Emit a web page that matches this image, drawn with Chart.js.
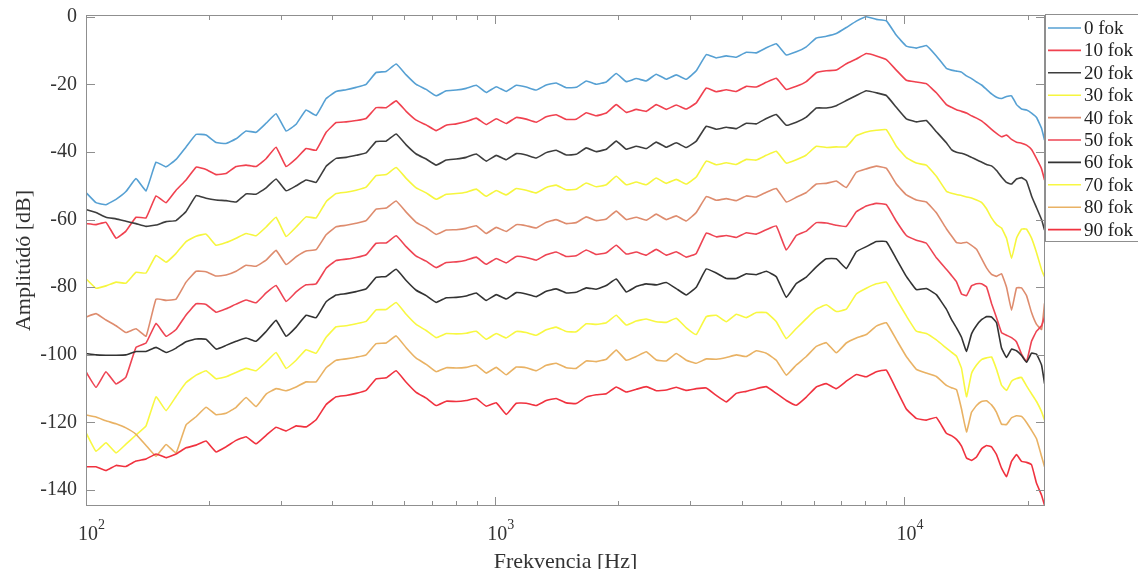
<!DOCTYPE html>
<html lang="hu">
<head>
  <meta charset="UTF-8" />
  <title>Amplitúdó – frekvencia</title>
  <style>
    html, body {
      margin: 0;
      padding: 0;
      background: #fff;
    }

    #wrap {
      width: 1138px;
      height: 569px;
      overflow: hidden;
    }
  </style>
</head>
<body>

<div id="wrap">
  <canvas id="chart" width="1138" height="569"></canvas>
</div>

<script src="https://cdn.jsdelivr.net/npm/chart.js"></script>

<script>
  // frekvencia pontok [Hz]
  const FREQ = [
    100, 105.8, 111.9, 118.4, 125.2, 132.5, 140.2, 148.3, 156.9, 166.0,
    175.6, 185.8, 196.5, 207.9, 219.9, 232.7, 246.1, 260.4, 275.5, 291.4,
    308.3, 326.2, 345.0, 365.0, 386.2, 408.5, 432.2, 457.2, 483.6, 511.6,
    541.3, 572.7, 605.8, 640.9, 678.0, 717.2, 758.9, 802.9, 849.3, 898.5,
    950.5, 1005.6, 1063.8, 1125.4, 1190.5, 1259.4, 1332.3, 1409.4, 1491, 1577,
    1669, 1765, 1868, 1976, 2090, 2211, 2339, 2474, 2618, 2769,
    2930, 3099, 3279, 3468, 3669, 3882, 4106, 4344, 4596, 4862,
    5143, 5441, 5756, 6089, 6442, 6815, 7209, 7627, 8068, 8535,
    9030, 9553, 10106, 10691, 11310, 11965, 12658,
    13025, 13402, 13785, 14178, 14583, 15000, 15428, 15868, 16321, 16787,
    17266, 17759, 18266, 18787, 19323, 19875, 20442, 21026, 21626, 21994
  ];

  // amplitúdó [dB] szögenként
  const FOK_0 = [
    -52, -55, -55.6, -54, -51.7, -47.9, -51.5, -43, -44.4, -42.2,
    -38.5, -34.8, -35, -37.2, -37.5, -36.1, -33.8, -34.2, -31.5, -28.7,
    -33.8, -31.8, -27.6, -29.2, -24.2, -22.1, -21.6, -20.9, -20, -16.5,
    -16.2, -14, -17.2, -20, -21.5, -23.4, -21.9, -21.7, -21.2, -20.3,
    -22.4, -20.7, -22.1, -20.3, -20.8, -21.7, -20.2, -19.6, -21, -20.9,
    -19, -20, -19.3, -16.8, -19.2, -18.3, -19, -17, -18.5, -17.2,
    -18.5, -16, -11.2, -12.2, -11.6, -12, -10.5, -10.7, -9.2, -8,
    -11.3, -10.4, -8.9, -6.3, -5.8, -5, -3.2, -1.3, 0, -0.8,
    -1.2, -5.5, -8.7, -9.3, -8.5, -11.6, -15.3,
    -15.8, -16.1, -16.4, -17.5, -18.3, -19.3, -20.2, -21.5, -22.8, -23.8,
    -24.2, -23.6, -23.4, -26, -27.3, -27.6, -28.5, -29.8, -33, -36.5
  ];

  const FOK_10 = [
    -61.2, -61.5, -60.8, -65.5, -63.4, -59.3, -59.5, -53, -55, -51.3,
    -48.3, -44.5, -45.2, -46.7, -46.4, -44.3, -43.9, -44.3, -42, -38.6,
    -44.3, -42, -39, -39.5, -34.2,
    -31.3, -31.1, -30.7, -30.1, -26.9, -26.9, -24.9, -28, -30.6, -32,
    -33.7, -32.1, -31.7, -31, -30, -31.9, -30.2, -31.6, -29.8, -30.3,
    -31.2, -29.6, -29, -30.4, -30.3, -28.4, -29.3, -28.5, -26, -28.3,
    -27.4, -28, -26, -27.4, -26.1, -27.3, -25.5, -21.1, -22.2, -21.6,
    -22.1, -20.6, -20.8, -19.4, -18.2, -21.5, -20.6, -19.2, -16.6,
    -16, -15.8, -13.9, -12.5, -10.9, -11.6, -12.7, -15.8, -18.8, -19.3, -19.8, -22.5, -26,
    -26.8, -27.5, -28, -28.5, -29.3, -30, -30.8, -32, -33.3, -34.5,
    -35.5, -35, -36.3, -37.1, -37.4, -38, -39.3, -42, -45, -48.3
  ];

  const FOK_20 = [
    -57, -57.9, -59.3, -59.8, -60.5, -61.2, -62, -61.6, -60.6, -60.3,
    -57.6, -52.9, -53.7, -54.2, -54.4, -54.8, -52.4, -52.5, -50.6, -48,
    -51.5, -50, -48.3, -49, -44.2,
    -41.9, -41.6, -41, -40.3, -36.9, -36.8, -34.7, -37.9, -40.6, -42.1,
    -43.9, -42.4, -42.1, -41.6, -40.6, -42.7, -41, -42.3, -40.5, -40.9,
    -41.8, -40.2, -39.5, -40.9, -40.7, -38.8, -39.9, -39.2, -36.8, -39.2,
    -38.3, -39, -37.1, -38.6, -37.3, -38.7, -36.8, -32.4, -33.3, -32.7,
    -33.1, -31.5, -31.7, -30.1, -28.9, -32.1, -31.2, -29.7, -27,
    -27, -26.3, -24.8, -23.3, -21.9, -22.5, -23.3, -26.8, -30.2, -31.1, -30.7, -34, -37.3,
    -39.3, -40.1, -40.4, -40.9, -41.6, -42.3, -43, -43.7, -44.1, -45.5,
    -47.4, -49, -49.5, -48, -47.6, -48.6, -53, -56.5, -60, -63.1
  ];

  const FOK_30 = [
    -77.5, -80.3, -79.6, -78.5, -78.8, -75.6, -75.8, -70.6, -72.6, -70,
    -66.5, -64.9, -64.3, -67.6, -66.8, -65.5, -64.1, -64.8, -62.2, -59.3,
    -65, -62.2, -59.2, -59.5, -54.7,
    -52.3, -51.9, -51.3, -50.4, -47, -46.7, -44.6, -47.8, -50.6, -52.1,
    -54, -52.5, -52.3, -51.9, -51, -53.1, -51.4, -52.7, -50.8, -51.3,
    -52.1, -50.5, -49.8, -51.2, -51, -49.2, -50.3, -49.7, -47.2, -49.7,
    -48.9, -49.7, -47.7, -49.3, -48.1, -49.5, -47.4, -42.7, -43.8, -43.2,
    -43.7, -42.2, -42.4, -41, -39.8, -43.3, -42.3, -40.9, -38.3,
    -38.7, -38.5, -38.5, -35.2, -34.1, -33.6, -33.4, -38.3, -41.7, -43.3, -43.9, -47.2, -51.6,
    -52.2, -52.6, -52.9, -53.3, -53.6, -54.2, -54.9, -56.8, -59.5, -61.5,
    -62.5, -65.5, -71.5, -65.5, -62.8, -62.8, -65.5, -69.8, -74.8, -76.9
  ];

  const FOK_40 = [
    -88.8, -87.8, -89.7, -91.4, -93.4, -92.3, -94.5, -83.5, -83.9, -83.5,
    -78.5, -75.3, -75.4, -76.7, -76.4, -75.3, -73.5, -73.8, -72, -69.1,
    -73.3, -71, -69.3, -68.9, -64.5,
    -62.1, -61.7, -61.1, -60.3, -56.9, -56.6, -54.5, -57.8, -60.8, -62.4,
    -64.4, -63.1, -63, -62.6, -61.8, -64.1, -62.3, -63.5, -61.5, -61.8,
    -62.5, -60.8, -60, -61.2, -60.9, -59.2, -60.3, -59.8, -57.5, -60,
    -59.3, -60.2, -58.4, -60, -58.9, -60.4, -57.9, -53.2, -54.3, -53.8,
    -54.4, -53, -53.3, -51.9, -50.8, -54.8, -53.4, -52, -49.5,
    -49.3, -48.6, -50.5, -46, -45, -44.2, -44.8, -49.5, -52.7, -54.2, -54.8, -58, -62.7,
    -64.8, -66.8, -67, -66.7, -67.6, -68.8, -71.5, -74.3, -76.2, -76.8,
    -76, -80, -86.8, -80.2, -80.2, -82.5, -87.5, -91, -92.5, -84.8
  ];

  const FOK_50 = [
    -105, -109.6, -105, -108.6, -106.6, -97.8, -96.5, -90.7, -94.5, -92.5,
    -88.2, -84.9, -85.1, -87.4, -86.4, -85, -83.8, -84.6, -81.7, -79.5,
    -84.2, -81.4, -79.3, -79, -74.4,
    -72.1, -71.7, -71.2, -70.4, -67, -66.9, -64.8, -68, -70.8, -72.3,
    -74.2, -72.7, -72.5, -72, -71.1, -73.2, -71.5, -72.8, -70.9, -71.2,
    -72, -70.4, -69.6, -70.9, -70.7, -69, -70.3, -69.8, -67.6, -70.2,
    -69.6, -70.5, -68.8, -70.5, -69.5, -71.1, -70, -64, -65.1, -64.7,
    -65.3, -63.9, -64.3, -63, -61.9, -69, -64.7, -63.4, -60.9,
    -61, -61.7, -62, -57.7, -56, -55.2, -55.6, -60.5, -64.7, -66.1, -67, -71.3, -74.7,
    -76.5, -78.4, -82, -82.5, -79.6, -79, -79, -79.9, -84.8, -89,
    -93.4, -94.2, -94.9, -96.2, -99.8, -102, -96, -93, -91.4, -88.8
  ];

  const FOK_60 = [
    -99.6, -100, -100.1, -100.1, -100, -99, -99, -97.8, -99.3, -98,
    -96.1, -95.3, -95.4, -98.3, -97.2, -96, -95, -96, -93.1, -89.8,
    -94.5, -91.8, -88.3, -89, -84.3,
    -82.3, -81.9, -81.3, -80.5, -77.1, -76.8, -74.7, -78, -80.9, -82.5,
    -84.5, -83.1, -83, -82.6, -81.7, -83.9, -82.2, -83.5, -81.6, -82,
    -82.8, -81.2, -80.5, -81.7, -81.5, -80.2, -80.6, -79.5, -77.6, -81.4,
    -79.8, -79, -79.3, -78.6, -80.4, -82.3, -80, -74.6, -75.8, -77.4,
    -77.4, -76, -76.3, -75.3, -76.9, -83, -78.9, -77, -74,
    -71.6, -71.6, -74.5, -69.5, -68, -66.5, -66.5, -71.6, -76.8, -80.7, -80.4, -82.2, -86.5,
    -89.5, -92, -94.8, -99, -93.8, -91.3, -89.6, -88.7, -88.8, -90.5,
    -98, -100.8, -98.3, -98.8, -100.2, -102.2, -99.5, -99.8, -103, -108.5
  ];

  const FOK_70 = [
    -123, -128.5, -126, -129, -126.4, -123.7, -121, -112.4, -116.5, -112.3,
    -108.2, -106, -104.7, -107.1, -106.5, -105.2, -104, -104.7, -102.1, -99.3,
    -104, -101.6, -98.5, -99.5, -94.8,
    -91.7, -91.4, -90.8, -90.1, -86.7, -86.6, -84.5, -88, -91, -92.8,
    -94.9, -93.7, -93.8, -93.6, -93, -95.4, -93.7, -95, -93.1, -93.4,
    -94.2, -92.6, -91.8, -93.1, -93.2, -90.8, -91, -90.5, -88.3, -91.2,
    -90, -89.4, -90.2, -90.4, -89.2, -92, -94, -88.7, -88.3, -90.2,
    -88, -89, -87.5, -87.5, -90.2, -95.2, -92.2, -89.3, -86.5,
    -85.2, -87.2, -86.5, -82, -80.3, -79, -78.5, -83.5, -88.5, -93, -93.7, -95.6, -98,
    -99.2, -100.4, -104, -112.4, -105.5, -103, -101.4, -100.9, -100.6, -104.3,
    -109, -110.5, -107.8, -107, -106.7, -109.2, -111.5, -113.8, -116.8, -119.3
  ];

  const FOK_80 = [
    -117.8, -118.4, -119.5, -120.4, -121.6, -123.5, -126.8, -130, -126.5, -129,
    -120.7, -118.3, -115.5, -117.7, -117.3, -115.5, -112.6, -115.3, -111.6, -110,
    -110.6, -109.5, -108, -108, -103.8,
    -101.6, -101.2, -100.7, -100, -96.7, -96.5, -94.4, -97.9, -101, -102.8,
    -105, -103.8, -103.9, -103.7, -103.1, -105.4, -103.7, -105.9, -103.6, -103.8,
    -104.7, -103.1, -102.5, -103.8, -104, -101.8, -102, -101.3, -98.6, -101.6,
    -100.5, -99.1, -101.5, -101.8, -99.6, -101.6, -102.5, -101.2, -101.3, -100.8,
    -100, -100.5, -98.8, -99.5, -101.6, -106, -103, -100.5, -97.5,
    -96.4, -99.4, -96.5, -95, -94, -91.5, -90.5, -95.5, -100.5, -104.3, -105.4, -106.4, -109,
    -109.7, -110.3, -116, -122.8, -117, -115, -113.8, -113.6, -114.8, -117,
    -120.5, -120.6, -118.6, -118, -118.2, -120, -122.3, -124.8, -130, -133.1
  ];

  const FOK_90 = [
    -133.1, -133.1, -134.2, -132.7, -133, -131.4, -130.8, -129.3, -130.4, -129.3,
    -127.5, -126.7, -125.5, -128.7, -127.2, -125.3, -124.2, -126.3, -123.8, -121.4,
    -122.5, -121, -121.3, -119.2, -114.7,
    -112.4, -112, -111.4, -110.5, -107.1, -106.8, -104.7, -108.1, -111.1, -112.8,
    -115, -113.7, -113.8, -113.5, -112.9, -115.2, -114.2, -117.6, -114.3, -114.3,
    -115, -113.5, -112.9, -114.2, -114.4, -112.5, -111.8, -111.5, -109.5, -111,
    -110.2, -109.4, -110.6, -110.4, -109.6, -110.5, -110, -109.8, -112, -113.9,
    -111.4, -110.8, -110, -109.4, -111.4, -113.5, -114.9, -112.5, -109.5,
    -108.5, -110, -107.8, -105.8, -106.5, -105, -104.5, -110.2, -116, -118.8, -119.3, -118.5, -123.2,
    -123.9, -125, -127, -130.5, -131.2, -130.2, -127.8, -126.8, -127.2, -129.5,
    -133.5, -136, -131.5, -129.5, -131.5, -131.8, -132.5, -138, -141.5, -144.5
  ];

  const SERIES = [FOK_0, FOK_10, FOK_20, FOK_30, FOK_40, FOK_50, FOK_60, FOK_70, FOK_80, FOK_90];
  const LABELS = ['0 fok', '10 fok', '20 fok', '30 fok', '40 fok', '50 fok', '60 fok', '70 fok', '80 fok', '90 fok'];
  const COLORS = ['#56a0d3', '#f0414f', '#3d3d3d', '#f6f63e', '#de8c6e',
                  '#ee4453', '#333333', '#f8f842', '#e9b264', '#f0323f'];

  // tengely beosztás
  const X_TICKS = [100, 200, 300, 400, 500, 600, 700, 800, 900,
                   1000, 2000, 3000, 4000, 5000, 6000, 7000, 8000, 9000,
                   10000, 20000];
  const X_MAJOR = [100, 1000, 10000];
  const X_MAJOR_EXP = ['2', '3', '4'];
  const Y_TICKS = [0, -20, -40, -60, -80, -100, -120, -140];

  const FONT = '"Liberation Serif", "Times New Roman", serif';
  const AXIS_GRAY = '#8f8f8f';
  const TEXT = '#333';

  const decor = {
    id: 'decor',
    afterDraw(chart) {
      const { ctx, chartArea: a } = chart;
      const xs = chart.scales.x;
      const ys = chart.scales.y;
      ctx.save();

      // keret + befelé álló osztások
      ctx.strokeStyle = AXIS_GRAY;
      ctx.lineWidth = 1;
      ctx.strokeRect(a.left + 0.5, a.top + 0.5, a.right - a.left - 1, a.bottom - a.top - 1);
      ctx.beginPath();
      for (const v of X_TICKS) {
        const px = Math.round(xs.getPixelForValue(v)) + 0.5;
        const len = X_MAJOR.includes(v) ? 9 : 5;
        ctx.moveTo(px, a.bottom); ctx.lineTo(px, a.bottom - len);
        ctx.moveTo(px, a.top); ctx.lineTo(px, a.top + len);
      }
      for (const v of Y_TICKS) {
        const py = Math.round(ys.getPixelForValue(v)) + 0.5;
        ctx.moveTo(a.left, py); ctx.lineTo(a.left + 9, py);
        ctx.moveTo(a.right, py); ctx.lineTo(a.right - 9, py);
      }
      ctx.stroke();

      // y feliratok
      ctx.fillStyle = TEXT;
      ctx.font = '20px ' + FONT;
      ctx.textAlign = 'right';
      ctx.textBaseline = 'middle';
      for (const v of Y_TICKS) {
        ctx.fillText(String(v), a.left - 9, ys.getPixelForValue(v));
      }

      // x feliratok: 10 a kitevővel
      ctx.textBaseline = 'alphabetic';
      ctx.textAlign = 'left';
      X_MAJOR.forEach((v, i) => {
        const px = xs.getPixelForValue(v);
        ctx.font = '20px ' + FONT;
        const w1 = ctx.measureText('10').width;
        ctx.fillText('10', px - w1 / 2 + 2, 540);
        ctx.font = '14px ' + FONT;
        ctx.fillText(X_MAJOR_EXP[i], px + w1 / 2 + 2, 529);
      });

      // tengelycímek
      ctx.font = '22px ' + FONT;
      ctx.textAlign = 'center';
      ctx.fillText('Frekvencia [Hz]', (a.left + a.right) / 2, 568);
      ctx.save();
      ctx.translate(24, (a.top + a.bottom) / 2);
      ctx.rotate(-Math.PI / 2);
      ctx.textBaseline = 'middle';
      ctx.fillText('Amplitúdó [dB]', 0, 0);
      ctx.restore();

      // jelmagyarázat
      const lx = 1045, ly = 14, lh = 227;
      ctx.fillStyle = '#fff';
      ctx.fillRect(lx, ly, 200, lh);
      ctx.strokeStyle = AXIS_GRAY;
      ctx.lineWidth = 1;
      ctx.strokeRect(lx + 0.5, ly + 0.5, 200, lh);
      ctx.font = '19px ' + FONT;
      ctx.textAlign = 'left';
      ctx.textBaseline = 'middle';
      LABELS.forEach((lab, i) => {
        const yy = 28 + i * 22.4;
        ctx.strokeStyle = COLORS[i];
        ctx.lineWidth = 1.6;
        ctx.beginPath();
        ctx.moveTo(1048, yy); ctx.lineTo(1081, yy);
        ctx.stroke();
        ctx.fillStyle = '#222';
        ctx.fillText(lab, 1084, yy + 1);
      });

      ctx.restore();
    }
  };

  const datasets = SERIES.map((vals, k) => ({
    label: LABELS[k],
    data: FREQ.map((f, i) => ({ x: f, y: vals[i] })),
    borderColor: COLORS[k],
    backgroundColor: COLORS[k],
    borderWidth: 1.6,
    pointRadius: 0,
    tension: 0.1,
    fill: false,
    order: SERIES.length - 1 - k
  }));

  new Chart(document.getElementById('chart').getContext('2d'), {
    type: 'line',
    data: { datasets },
    options: {
      responsive: false,
      animation: false,
      devicePixelRatio: 1,
      layout: { padding: { left: 0, top: 15, right: 93, bottom: 0 } },
      plugins: {
        legend: { display: false },
        tooltip: { enabled: false }
      },
      scales: {
        x: {
          type: 'logarithmic',
          min: 100,
          max: 22050,
          grid: { display: false },
          border: { display: false },
          ticks: { display: false },
          afterFit: (s) => { s.height = 63; }
        },
        y: {
          type: 'linear',
          min: -144.7,
          max: 0.5,
          grid: { display: false },
          border: { display: false },
          ticks: { display: false },
          afterFit: (s) => { s.width = 86; }
        }
      }
    },
    plugins: [decor]
  });
</script>

</body>
</html>
